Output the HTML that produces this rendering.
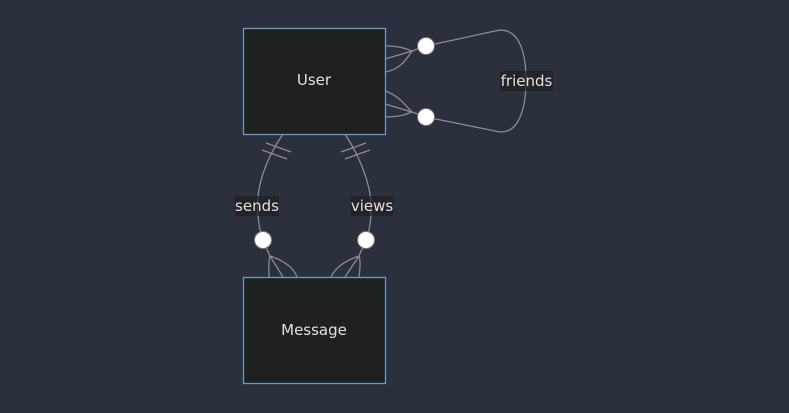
<!DOCTYPE html>
<html><head><style>
html,body{margin:0;padding:0;background:#2b303d;}
svg{display:block}
text{font-family:"DejaVu Sans","Liberation Sans",sans-serif;font-size:15px;fill:#e0e0e0}
</style></head><body>
<svg width="789" height="413" viewBox="0 0 789 413">
<rect width="789" height="413" fill="#2b303d"/>
<g fill="none" stroke="#8c8c8c" stroke-width="1.3">
<!-- friends loop -->
<path d="M426,46 L495,31 C520,25 526,55 526,80 C526,105 520,138 495,131 L426,117"/>
<path d="M385,46 C398,46 405,48 412,51 M385,59 L412,51 M385,72 C398,70 405,62 412,51 M412,51 L426,46"/>
<path d="M385,91 C398,95 405,105 412,112 M385,104 L412,112 M385,117 C398,117 405,115 412,112 M412,112 L426,117"/>
<!-- sends -->
<path d="M283,134 C265,160 255,190 258,215 C259,228 261,235 263,240"/>
<path d="M262,150 L287,159 M266,143 L291,152"/>
<path d="M263,240 L270,256 M270,256 C268,262 269,270 269,277 M270,256 L283,277 M270,256 C282,260 293,266 297,277"/>
<!-- views -->
<path d="M345,134 C362,160 373,190 371,215 C370,228 368,235 366,240"/>
<path d="M341,152 L366,143 M345,159 L370,150"/>
<path d="M366,240 L359,256 M359,256 C361,262 360,270 359,277 M359,256 L345,277 M359,256 C347,260 336,266 331,277"/>
</g>
<g fill="#fff" stroke="#777" stroke-width="1">
<circle cx="426" cy="46" r="8.5"/><circle cx="426" cy="117" r="8.5"/>
<circle cx="263" cy="240" r="8.5"/><circle cx="366" cy="240" r="8.5"/>
</g>
<rect x="243.5" y="28.5" width="142" height="106" fill="#1f2020" stroke="#6c9ac5" stroke-width="1.3"/>
<rect x="243.5" y="277.5" width="142" height="106" fill="#1f2020" stroke="#6c9ac5" stroke-width="1.3"/>
<text x="314" y="85" text-anchor="middle">User</text>
<text x="314" y="335" text-anchor="middle">Message</text>
<rect x="500" y="71" width="53" height="20" fill="#1f2020" opacity="0.7"/>
<text x="526.5" y="86" text-anchor="middle">friends</text>
<rect x="235" y="196" width="44" height="20" fill="#1f2020" opacity="0.7"/>
<text x="257" y="211" text-anchor="middle">sends</text>
<rect x="351" y="196" width="42" height="20" fill="#1f2020" opacity="0.7"/>
<text x="372" y="211" text-anchor="middle">views</text>
</svg>
</body></html>
